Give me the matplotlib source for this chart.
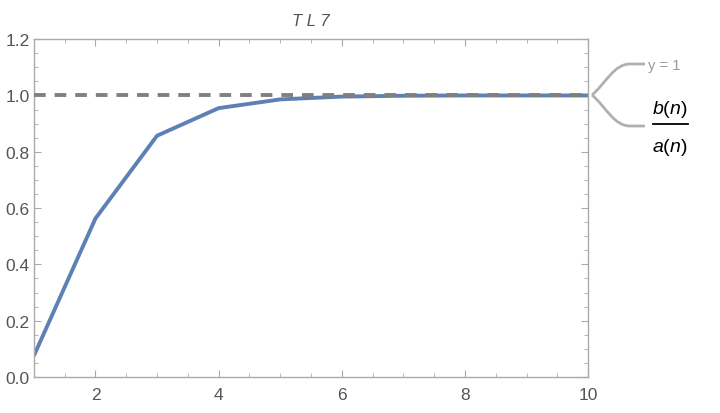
import numpy as np
import matplotlib
matplotlib.use('Agg')
import matplotlib.pyplot as plt
from matplotlib.path import Path
from matplotlib.patches import PathPatch
from matplotlib.lines import Line2D
from matplotlib.ticker import MultipleLocator

plt.rcParams['font.family'] = ['Liberation Sans', 'DejaVu Sans']
plt.rcParams['mathtext.fontset'] = 'custom'
plt.rcParams['mathtext.it'] = 'Liberation Sans:italic'
plt.rcParams['mathtext.rm'] = 'Liberation Sans'

n = [1, 2, 3, 4, 5, 6, 7, 8, 9, 10]
ratio = [0.075, 0.563, 0.857, 0.955, 0.986, 0.996, 0.999, 1.0, 1.0, 1.0]
limit = 1.0

gray = '#555555'
frame = '#aaaaaa'

fig = plt.figure(figsize=(7.2, 4.14), dpi=100, facecolor='w')
ax = fig.add_axes([0.047, 0.087, 0.770, 0.816])

ax.plot(n, ratio, color='#5e81b5', lw=2.8, solid_capstyle='butt', zorder=2)
ax.axhline(limit, color='#808080', lw=2.8, dashes=(3.0, 2.3), zorder=3)

ax.set_xlim(1, 10)
ax.set_ylim(0, 1.2)
ax.xaxis.set_minor_locator(MultipleLocator(0.5))
ax.yaxis.set_minor_locator(MultipleLocator(0.05))
ax.set_xticks([2, 4, 6, 8, 10])
ax.set_yticks([0.0, 0.2, 0.4, 0.6, 0.8, 1.0, 1.2])
ax.set_yticklabels(['0.0', '0.2', '0.4', '0.6', '0.8', '1.0', '1.2'])
ax.tick_params(which='both', direction='in', top=True, right=True, colors=frame,
               labelcolor=gray, labelsize=12.5)
ax.tick_params(which='major', length=5, width=0.8)
ax.tick_params(which='minor', length=3, width=0.6)
ax.tick_params(axis='x', pad=7)
ax.tick_params(axis='y', pad=3)
for s in ax.spines.values():
    s.set_color(frame)
    s.set_linewidth(1)

ax.set_title('T L 7', fontsize=12, style='italic', color=gray, pad=10)

# legend callouts (figure pixel coordinates)
tr = fig.transFigure
W, H = 720.0, 414.0
def fp(x, y):
    return (x / W, 1 - y / H)

codes = [Path.MOVETO, Path.CURVE4, Path.CURVE4, Path.CURVE4, Path.LINETO]
up = Path([fp(592, 96), fp(606, 84), fp(614, 65), fp(630, 65), fp(645, 65)], codes)
down = Path([fp(592, 96), fp(606, 108), fp(614, 127), fp(630, 127), fp(645, 127)], codes)
for p in (up, down):
    fig.patches.append(PathPatch(p, transform=tr, fill=False, ec='#b0b0b0', lw=2,
                                 capstyle='butt'))

fig.text(648 / W, 1 - 66 / H, 'y = 1', color='#999999', fontsize=10.5,
         va='center', ha='left')
fig.text(670 / W, 1 - 110 / H, r'$b(n)$', color='black', fontsize=14,
         va='center', ha='center')
fig.text(670 / W, 1 - 148 / H, r'$a(n)$', color='black', fontsize=14,
         va='center', ha='center')
fig.lines.append(Line2D([653 / W, 688 / W], [1 - 125 / H, 1 - 125 / H],
                        transform=tr, color='black', lw=1.3))

fig.savefig('out.png', dpi=100)
